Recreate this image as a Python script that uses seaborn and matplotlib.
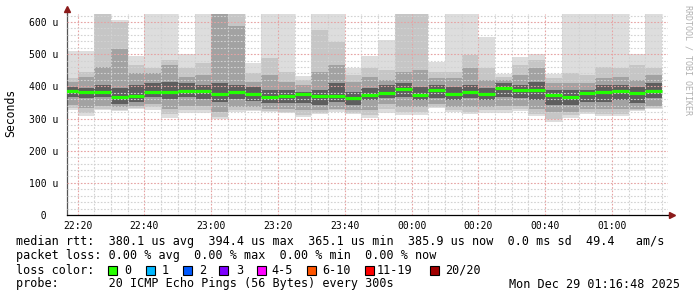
import matplotlib
matplotlib.use("Agg")
import matplotlib.pyplot as plt
import matplotlib.patches as mpatches
from matplotlib.ticker import MultipleLocator
import numpy as np
import pandas as pd
import seaborn as sns

# ---------------- data ----------------
bar_times = ["22:15", "22:20", "22:25", "22:30", "22:35", "22:40", "22:45", "22:50", "22:55",
             "23:00", "23:05", "23:10", "23:15", "23:20", "23:25", "23:30", "23:35", "23:40",
             "23:45", "23:50", "23:55", "00:00", "00:05", "00:10", "00:15", "00:20", "00:25",
             "00:30", "00:35", "00:40", "00:45", "00:50", "00:55", "01:00", "01:05", "01:10"]

median_us = [385, 383, 381, 366, 370, 382, 383, 386, 386, 375, 383, 375, 367, 369, 376, 370, 370, 365.1,
             374, 380, 392, 374, 390, 376, 381, 376, 394.4, 388, 388, 374, 368, 380, 382, 386, 378, 385.9]

ping_max = [510, 510, 640, 606, 495, 640, 640, 500, 640, 640, 640, 472, 640, 640, 433, 640, 640, 456,
            495, 544, 640, 640, 475, 640, 640, 554, 438, 492, 500, 437, 640, 640, 640, 640, 500, 640]
ping_p90 = [426, 446, 640, 600, 466, 456, 482, 456, 472, 640, 640, 440, 487, 446, 420, 575, 539, 435,
            456, 450, 640, 640, 446, 446, 497, 456, 430, 466, 482, 426, 440, 435, 461, 456, 466, 456]
ping_p75 = [414, 430, 461, 515, 440, 440, 466, 430, 435, 640, 588, 414, 435, 414, 404, 446, 466, 414,
            430, 420, 445, 450, 425, 425, 456, 420, 420, 435, 456, 409, 409, 409, 425, 430, 420, 435]
ping_p60 = [398, 394, 404, 395, 405, 410, 415, 410, 405, 409, 404, 399, 390, 389, 383, 389, 409, 383,
            394, 404, 410, 399, 404, 399, 404, 394, 409, 404, 415, 389, 389, 389, 404, 404, 399, 409]
ping_p40 = [368, 363, 366, 345, 350, 368, 360, 368, 360, 350, 360, 355, 347, 347, 347, 342, 352, 342,
            358, 363, 368, 358, 363, 358, 363, 358, 368, 363, 358, 342, 342, 352, 352, 358, 347, 363]
ping_p20 = [342, 333, 340, 335, 338, 345, 330, 340, 340, 320, 335, 335, 330, 330, 325, 325, 330, 325,
            325, 345, 335, 335, 345, 335, 335, 335, 340, 340, 330, 320, 320, 330, 330, 330, 330, 340]
ping_p10 = [333, 318, 330, 328, 333, 335, 315, 325, 325, 305, 325, 328, 323, 321, 312, 318, 325, 318,
            310, 330, 320, 320, 337, 325, 320, 325, 325, 330, 315, 300, 310, 320, 315, 315, 326, 333]
ping_min = [326, 308, 326, 323, 330, 328, 303, 316, 318, 298, 321, 324, 319, 316, 304, 313, 321, 314,
            303, 318, 311, 311, 332, 320, 313, 318, 318, 323, 308, 290, 303, 313, 308, 308, 324, 330]

x_tick_labels = ["22:20", "22:40", "23:00", "23:20", "23:40", "00:00", "00:20", "00:40", "01:00"]
y_ticks = [0, 100, 200, 300, 400, 500, 600]
y_tick_labels = ["  0  ", "100 u", "200 u", "300 u", "400 u", "500 u", "600 u"]

loss_labels = ["0", "1", "2", "3", "4-5", "6-10", "11-19", "20/20"]
loss_colors = ["#26ff00", "#00b8ff", "#0059ff", "#7e00ff", "#ff00ff", "#ff5500", "#ff0000", "#a10000"]

legend_line1 = "median rtt:  380.1 us avg  394.4 us max  365.1 us min  385.9 us now  0.0 ms sd  49.4   am/s"
legend_line2 = "packet loss: 0.00 % avg  0.00 % max  0.00 % min  0.00 % now"
legend_line4 = "probe:       20 ICMP Echo Pings (56 Bytes) every 300s"
stamp = "Mon Dec 29 01:16:48 2025"


def to_min(t):
    h, m = map(int, t.split(":"))
    if h < 12:
        h += 24
    return (h - 22) * 60 + m


df = pd.DataFrame({
    "t": [to_min(t) for t in bar_times],
    "median": median_us, "max": ping_max, "p90": ping_p90, "p75": ping_p75,
    "p60": ping_p60, "p40": ping_p40, "p20": ping_p20, "p10": ping_p10, "min": ping_min,
})

# ---------------- style ----------------
sns.set_theme(style="white")
plt.rcParams["font.family"] = ["DejaVu Sans Mono"]

W, H = 697, 297
fig = plt.figure(figsize=(W / 100, H / 100), dpi=100)
ax_left, ax_right, ax_top, ax_bot = 67, 668, 14, 215
ax = fig.add_axes([ax_left / W, 1 - ax_bot / H, (ax_right - ax_left) / W, (ax_bot - ax_top) / H])

YMAX = 625
ax.set_xlim(16.8, 196.8)
ax.set_ylim(0, YMAX)

# smoke bands
bands = [("min", "max", "#dddddd"), ("p10", "p90", "#c6c6c6"),
         ("p20", "p75", "#a2a2a2"), ("p40", "p60", "#5e5e5e")]
for lo, hi, col in bands:
    top = df[hi].clip(upper=YMAX + 20)
    ax.bar(df["t"], top - df[lo], bottom=df[lo], width=5, align="edge",
           color=col, linewidth=0, antialiased=False, zorder=1)

# median segments
ax.hlines(df["median"], df["t"], df["t"] + 5, colors="#22ff00", linewidth=2.3, zorder=4)

# grid
red = "#e6a3a3"
gray = "#d2d2d2"
ax.xaxis.set_minor_locator(MultipleLocator(5))
ax.yaxis.set_minor_locator(MultipleLocator(20))
ax.set_xticks([20 * (i + 1) for i in range(len(x_tick_labels))])
ax.set_xticklabels(x_tick_labels)
ax.set_yticks(y_ticks)
ax.set_yticklabels(y_tick_labels)
ax.grid(which="minor", color=gray, linestyle=(0, (1.5, 1.5)), linewidth=0.8, zorder=2)
ax.grid(which="major", color=red, linestyle=(0, (1.5, 1.5)), linewidth=0.8, zorder=3)
ax.set_axisbelow(False)

ax.tick_params(axis="both", which="major", labelsize=7, length=2, width=0.8, color="#888888",
               labelcolor="black")
ax.tick_params(axis="x", which="major", pad=2.5)
ax.tick_params(axis="y", which="major", pad=4)
ax.tick_params(axis="both", which="minor", length=0)

for s in ["top", "right"]:
    ax.spines[s].set_visible(False)
ax.spines["left"].set_color("#555555")
ax.spines["left"].set_linewidth(0.9)
ax.spines["bottom"].set_color("black")
ax.spines["bottom"].set_linewidth(0.9)

# axis arrows
ax.plot([0, 0], [1, 1.02], transform=ax.transAxes, color="#555555", lw=0.9, clip_on=False)
ax.plot([0], [1.025], transform=ax.transAxes, marker="^", color="#8b1a1a", markersize=4.5,
        clip_on=False, zorder=6)
ax.plot([1, 1.003], [0, 0], transform=ax.transAxes, color="black", lw=0.9, clip_on=False)
ax.plot([1.006], [0], transform=ax.transAxes, marker=">", color="#8b1a1a", markersize=4.5,
        clip_on=False, zorder=6)


def px(x, y):
    return x / W, 1 - y / H


# y axis title
fig.text(*px(10.5, 113), "Seconds", rotation=90, fontsize=8.3, color="black",
         ha="center", va="center")

# side watermark
fig.text(*px(688, 60), "RRDTOOL / TOBI OETIKER", rotation=270, fontsize=6,
         color="#b0b0b0", ha="center", va="center")

# legend lines
fs = 8.5
fig.text(*px(16, 245.5), legend_line1, fontsize=fs, ha="left", va="baseline", color="black")
fig.text(*px(16, 259.5), legend_line2, fontsize=fs, ha="left", va="baseline", color="black")
fig.text(*px(16, 273.5), "loss color:", fontsize=fs, ha="left", va="baseline", color="black")
fig.text(*px(16, 287.5), legend_line4, fontsize=fs, ha="left", va="baseline", color="black")
fig.text(*px(680, 287.5), stamp, fontsize=fs, ha="right", va="baseline", color="black")

sq_x = [108, 146, 183, 219, 257, 307, 365, 430]
txt_x = [124, 162, 199, 236, 271, 322, 377, 445]
for sx, tx, lab, col in zip(sq_x, txt_x, loss_labels, loss_colors):
    fig.patches.append(mpatches.Rectangle((sx / W, 1 - 274.5 / H), 9 / W, 9 / H,
                                          transform=fig.transFigure, facecolor=col,
                                          edgecolor="black", linewidth=0.8))
    fig.text(*px(tx, 273.5), lab, fontsize=fs, ha="left", va="baseline", color="black")

fig.savefig("out.png", dpi=100)
